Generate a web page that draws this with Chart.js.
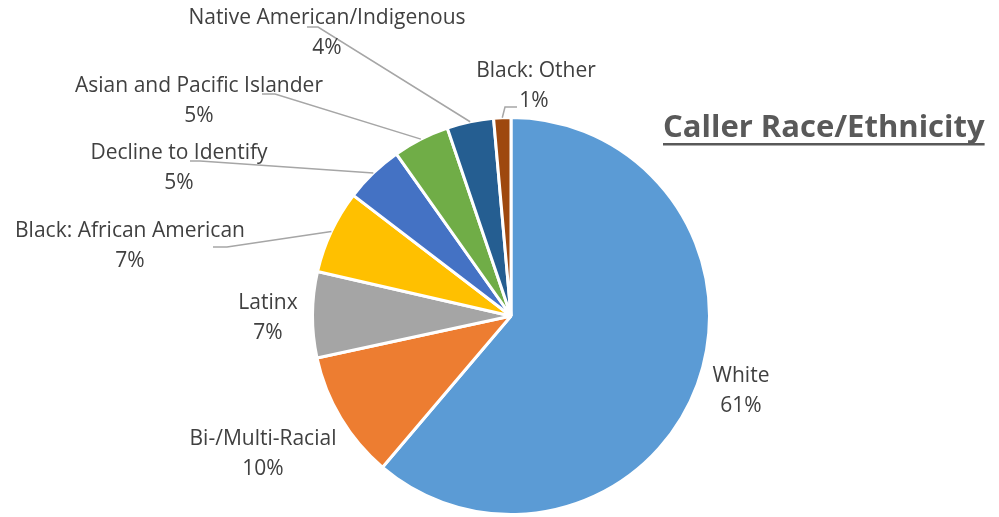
<!DOCTYPE html>
<html>
<head>
<meta charset="utf-8">
<script src="https://cdn.jsdelivr.net/npm/chart.js@4.4.0/dist/chart.umd.min.js"></script>
<style>
  html, body { margin: 0; padding: 0; background: #fff; }
  #wrap { width: 999px; height: 517px; position: relative; }
</style>
</head>
<body>
<div id="wrap"><canvas id="raceChart"></canvas></div>
<script>
const categories = ["White", "Bi-/Multi-Racial", "Latinx", "Black: African American",
  "Decline to Identify", "Asian and Pacific Islander", "Native American/Indigenous", "Black: Other"];
const shares = [61.2, 10.4, 7.0, 6.8, 4.8, 4.6, 3.8, 1.4];
const sliceColors = ["#5B9BD5", "#ED7D31", "#A5A5A5", "#FFC000",
  "#4472C4", "#70AD47", "#255E91", "#9E480E"];
const chartTitle = "Caller Race/Ethnicity";

const labelFont = "21px 'Open Sans'";
const textColor = "#404040";

// where Excel put each label (text center of first line) and its leader line, if any
const labelSpots = [
  { x: 741, y: 376 },
  { x: 263, y: 439 },
  { x: 268, y: 303 },
  { x: 130, y: 231, line: [[213, 247], [227, 247]] },
  { x: 179, y: 153, line: [[190, 161], [200, 161]] },
  { x: 199, y: 86, line: [[262, 94], [275, 94]] },
  { x: 327, y: 18, line: [[307, 27], [318, 27]] },
  { x: 536, y: 71, pctX: 534, line: [[517, 107], [505, 107]] }
];

const labelPlugin = {
  id: "sliceLabels",
  afterDraw(chart) {
    const ctx = chart.ctx;
    const arcs = chart.getDatasetMeta(0).data;
    const total = shares.reduce((a, b) => a + b, 0);
    ctx.save();
    arcs.forEach((arc, i) => {
      const spot = labelSpots[i];
      if (spot.line) {
        const mid = (arc.startAngle + arc.endAngle) / 2;
        const ex = arc.x + Math.cos(mid) * arc.outerRadius;
        const ey = arc.y + Math.sin(mid) * arc.outerRadius;
        ctx.strokeStyle = "#A6A6A6";
        ctx.lineWidth = 1.5;
        ctx.beginPath();
        ctx.moveTo(spot.line[0][0], spot.line[0][1]);
        ctx.lineTo(spot.line[1][0], spot.line[1][1]);
        ctx.lineTo(ex, ey);
        ctx.stroke();
      }
      ctx.fillStyle = textColor;
      ctx.font = labelFont;
      ctx.textAlign = "center";
      ctx.textBaseline = "middle";
      ctx.fillText(categories[i], spot.x, spot.y);
      const pct = Math.round(shares[i] / total * 100) + "%";
      ctx.fillText(pct, spot.pctX || spot.x, spot.y + 30);
    });

    // title, bold and underlined
    ctx.font = "bold 31px 'Open Sans'";
    ctx.fillStyle = "#595959";
    ctx.textAlign = "left";
    ctx.textBaseline = "alphabetic";
    const tx = 663, ty = 137;
    ctx.fillText(chartTitle, tx, ty);
    const w = ctx.measureText(chartTitle).width;
    ctx.fillRect(tx, ty + 6, w, 2.5);
    ctx.restore();
  }
};

new Chart(document.getElementById("raceChart"), {
  type: "pie",
  data: {
    labels: categories,
    datasets: [{
      data: shares,
      backgroundColor: sliceColors,
      borderColor: "#ffffff",
      borderWidth: 3
    }]
  },
  options: {
    responsive: true,
    maintainAspectRatio: false,
    animation: false,
    layout: {
      padding: { left: 311, right: 288, top: 116, bottom: 1 }
    },
    plugins: {
      legend: { display: false },
      tooltip: { enabled: false }
    }
  },
  plugins: [labelPlugin]
});
</script>
</body>
</html>
